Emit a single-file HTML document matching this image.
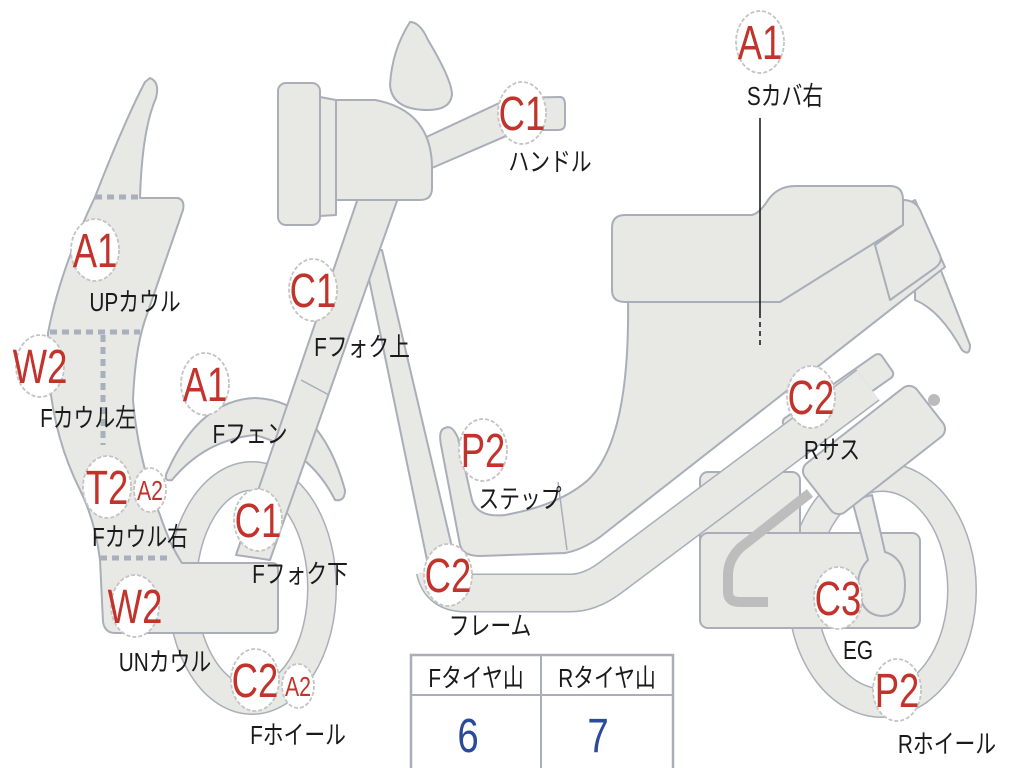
<!DOCTYPE html>
<html><head><meta charset="utf-8"><style>
html,body{margin:0;padding:0;background:#fff;}
svg{display:block}
.p{fill:#e8e8e4;stroke:#a9aeb9;stroke-width:2;stroke-linejoin:round}
.lab{font-family:"Liberation Sans","Noto Sans CJK JP",sans-serif;font-size:26px;fill:#1a1a1a}
.bd{fill:#fff;stroke:#c4c4c4;stroke-width:1.8;stroke-dasharray:4 2}
.bt{font-family:"Liberation Sans","Noto Sans CJK JP",sans-serif;fill:#c2332c;font-size:48px}
.bs{font-family:"Liberation Sans","Noto Sans CJK JP",sans-serif;fill:#c2332c;font-size:28px}
</style></head><body>
<svg width="1024" height="768" viewBox="0 0 1024 768" xmlns="http://www.w3.org/2000/svg">
<!-- rear wheel -->
<ellipse cx="882" cy="590" rx="80" ry="113" fill="none" stroke="#a9aeb9" stroke-width="30"/>
<ellipse cx="882" cy="590" rx="80" ry="113" fill="none" stroke="#e8e8e4" stroke-width="27"/>
<!-- engine -->
<rect class="p" x="700" y="472" width="100" height="80" rx="8"/>
<rect class="p" x="700" y="533" width="220" height="95" rx="8"/>
<path d="M810,493 L740,548 Q728,560 728,575 L728,592 Q728,602 740,602 L768,602" fill="none" stroke="#bdbdbd" stroke-width="10"/>
<path class="p" d="M852,500 L868,560 Q858,570 858,585 Q860,615 882,616 Q905,615 905,585 Q905,558 885,552 L872,495 Z"/>
<g transform="translate(838,398) rotate(-35)"><rect class="p" x="-60" y="-14" width="120" height="28" rx="5"/></g>
<circle cx="934" cy="400" r="6" fill="#bbb"/>
<g transform="translate(874,450) rotate(-38)"><rect class="p" x="-71" y="-31" width="142" height="62" rx="10"/></g>
<!-- tail spike -->
<path class="p" d="M915,285 L940,268 L970,345 Q970,357 962,350 Q940,310 915,300 Z"/>
<!-- body / floor -->
<path class="p" d="M628,300 Q630,440 588,480 Q560,505 505,515 Q478,518 472,500 L458,438 Q452,424 445,428 Q438,430 441,445 L460,545 Q463,556 480,556 L565,553 Q582,550 600,537 L945,267 L915,200 L860,230 L640,300 Z"/>
<line x1="558" y1="482" x2="567" y2="550" stroke="#a9aeb9" stroke-width="1.5"/>
<line x1="875" y1="245" x2="892" y2="300" stroke="#a9aeb9" stroke-width="1.5"/>
<!-- seat -->
<path class="p" d="M625,215 L752,215 Q760,213 768,200 Q778,186 795,186 L890,186 Q903,186 903,200 L903,225 L780,302 L625,302 Q612,302 612,290 L612,228 Q612,215 625,215 Z"/>
<path class="p" d="M903,200 Q915,200 920,210 L940,255 Q943,262 935,268 L890,300 L875,245 L903,225 Z"/>
<!-- frame -->
<path d="M435,570 Q440,593 465,593 L570,593 Q590,593 610,578 L868,385" fill="none" stroke="#a9aeb9" stroke-width="39" stroke-linejoin="round"/>
<path d="M435,570 Q440,593 465,593 L570,593 Q590,593 610,578 L868,385" fill="none" stroke="#e8e8e4" stroke-width="36" stroke-linejoin="round"/>
<path class="p" d="M363,250 L382,250 L455,560 L428,565 Z"/>
<!-- front wheel -->
<ellipse cx="252" cy="588" rx="70" ry="112" fill="none" stroke="#a9aeb9" stroke-width="30"/>
<ellipse cx="252" cy="588" rx="70" ry="112" fill="none" stroke="#e8e8e4" stroke-width="27"/>
<!-- fender -->
<path class="p" d="M168,470 Q200,400 255,398 Q320,400 345,490 Q345,502 335,500 Q310,450 255,435 Q205,440 172,480 Q162,482 168,470 Z"/>
<!-- fork -->
<path class="p" d="M358,198 L398,198 L270,560 L236,555 Z"/>
<line x1="301" y1="380" x2="329" y2="395" stroke="#a9aeb9" stroke-width="1.5"/>
<!-- left cowl -->
<path class="p" d="M150,78 Q160,82 156,98 Q142,130 140,198 L178,198 Q185,200 183,210 L145,320 Q135,350 133,400 Q138,460 160,515 Q170,545 182,563 L272,563 Q278,563 278,570 L278,628 Q278,633 272,633 L115,633 Q105,633 103,622 L100,560 Q95,520 80,490 Q45,420 48,333 Q60,270 95,197 Q125,120 145,82 Z"/>
<g stroke="#a9b0bd" stroke-width="5" stroke-dasharray="7 5" fill="none">
<line x1="95" y1="197" x2="140" y2="197"/>
<line x1="50" y1="332" x2="140" y2="332"/>
<line x1="103" y1="335" x2="103" y2="445"/>
<line x1="100" y1="558" x2="172" y2="558"/>
</g>
<!-- headlight & handle -->
<path class="p" d="M410,22 Q420,22 428,40 Q452,80 452,95 Q450,110 428,110 Q392,110 390,85 Q392,50 410,22 Z"/>
<path class="p" d="M420,140 L510,98 L560,97 Q565,97 565,105 L565,124 Q565,130 558,130 L520,130 L432,168 Z"/>
<rect class="p" x="278" y="83" width="42" height="142" rx="8"/>
<path class="p" d="M320,97 L336,100 L336,215 L320,216 Z"/>
<path class="p" d="M336,100 L375,100 Q430,110 432,165 L432,188 Q432,200 420,200 L336,200 Z"/>
<!-- S cover line -->
<line x1="760" y1="118" x2="760" y2="318" stroke="#111" stroke-width="1.5"/>
<line x1="760" y1="322" x2="760" y2="346" stroke="#111" stroke-width="1.5" stroke-dasharray="5 4"/>
<!-- table -->
<rect x="411" y="655" width="262" height="115" fill="#fff" stroke="#a9aeb9" stroke-width="2.5"/>
<line x1="411" y1="695" x2="673" y2="695" stroke="#a9aeb9" stroke-width="2"/>
<line x1="541" y1="655" x2="541" y2="770" stroke="#a9aeb9" stroke-width="2"/>
<g class="lab"><text transform="translate(476,687) scale(0.8,1)" text-anchor="middle">Fタイヤ山</text>
<text transform="translate(607,687) scale(0.8,1)" text-anchor="middle">Rタイヤ山</text></g>
<text transform="translate(468,752) scale(0.8,1)" text-anchor="middle" font-family="Liberation Sans,sans-serif" font-size="48" fill="#2a4a9a">6</text>
<text transform="translate(598,752) scale(0.8,1)" text-anchor="middle" font-family="Liberation Sans,sans-serif" font-size="48" fill="#2a4a9a">7</text>
<!-- badges -->
<g>
<ellipse class="bd" cx="760" cy="42" rx="24" ry="31"/><text class="bt" transform="translate(760,59) scale(0.76,1)" text-anchor="middle">A1</text>
<ellipse class="bd" cx="522" cy="113" rx="24" ry="31"/><text class="bt" transform="translate(522,130) scale(0.76,1)" text-anchor="middle">C1</text>
<ellipse class="bd" cx="95" cy="250" rx="24" ry="31"/><text class="bt" transform="translate(95,267) scale(0.76,1)" text-anchor="middle">A1</text>
<ellipse class="bd" cx="313" cy="290" rx="24" ry="31"/><text class="bt" transform="translate(313,307) scale(0.76,1)" text-anchor="middle">C1</text>
<ellipse class="bd" cx="40" cy="366" rx="24" ry="31"/><text class="bt" transform="translate(40,383) scale(0.76,1)" text-anchor="middle">W2</text>
<ellipse class="bd" cx="205" cy="384" rx="24" ry="31"/><text class="bt" transform="translate(205,401) scale(0.76,1)" text-anchor="middle">A1</text>
<ellipse class="bd" cx="107" cy="487" rx="24" ry="31"/><text class="bt" transform="translate(107,504) scale(0.76,1)" text-anchor="middle">T2</text>
<ellipse class="bd" cx="150" cy="490" rx="16" ry="22"/><text class="bs" transform="translate(150,500) scale(0.76,1)" text-anchor="middle">A2</text>
<ellipse class="bd" cx="258" cy="520" rx="24" ry="31"/><text class="bt" transform="translate(258,537) scale(0.76,1)" text-anchor="middle">C1</text>
<ellipse class="bd" cx="483" cy="450" rx="24" ry="31"/><text class="bt" transform="translate(483,467) scale(0.76,1)" text-anchor="middle">P2</text>
<ellipse class="bd" cx="811" cy="397" rx="24" ry="31"/><text class="bt" transform="translate(811,414) scale(0.76,1)" text-anchor="middle">C2</text>
<ellipse class="bd" cx="448" cy="575" rx="24" ry="31"/><text class="bt" transform="translate(448,592) scale(0.76,1)" text-anchor="middle">C2</text>
<ellipse class="bd" cx="135" cy="606" rx="24" ry="31"/><text class="bt" transform="translate(135,623) scale(0.76,1)" text-anchor="middle">W2</text>
<ellipse class="bd" cx="255" cy="680" rx="24" ry="31"/><text class="bt" transform="translate(255,697) scale(0.76,1)" text-anchor="middle">C2</text>
<ellipse class="bd" cx="298" cy="686" rx="16" ry="22"/><text class="bs" transform="translate(298,696) scale(0.76,1)" text-anchor="middle">A2</text>
<ellipse class="bd" cx="838" cy="598" rx="24" ry="31"/><text class="bt" transform="translate(838,615) scale(0.76,1)" text-anchor="middle">C3</text>
<ellipse class="bd" cx="897" cy="690" rx="24" ry="31"/><text class="bt" transform="translate(897,707) scale(0.76,1)" text-anchor="middle">P2</text>
</g>
<!-- labels -->
<g class="lab" text-anchor="middle">
<text transform="translate(785,105) scale(0.8,1)">Sカバ右</text>
<text transform="translate(550,171) scale(0.8,1)">ハンドル</text>
<text transform="translate(135,311) scale(0.8,1)">UPカウル</text>
<text transform="translate(362,356) scale(0.8,1)">Fフォク上</text>
<text transform="translate(88,427) scale(0.8,1)">Fカウル左</text>
<text transform="translate(250,443) scale(0.8,1)">Fフェン</text>
<text transform="translate(140,546) scale(0.8,1)">Fカウル右</text>
<text transform="translate(300,583) scale(0.8,1)">Fフォク下</text>
<text transform="translate(520,508) scale(0.8,1)">ステップ</text>
<text transform="translate(832,459) scale(0.8,1)">Rサス</text>
<text transform="translate(490,635) scale(0.8,1)">フレーム</text>
<text transform="translate(165,671) scale(0.8,1)">UNカウル</text>
<text transform="translate(298,744) scale(0.8,1)">Fホイール</text>
<text transform="translate(858,659) scale(0.8,1)">EG</text>
<text transform="translate(947,753) scale(0.8,1)">Rホイール</text>
</g>
</svg>
</body></html>
